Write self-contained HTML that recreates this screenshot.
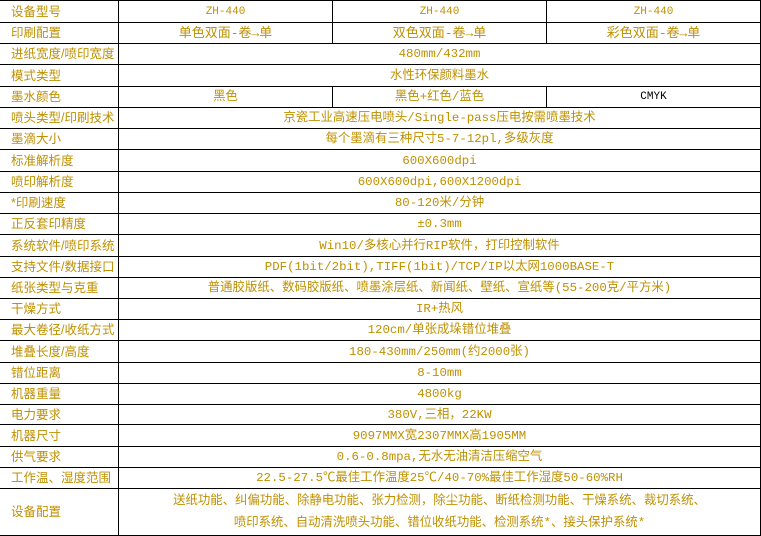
<!DOCTYPE html>
<html><head><meta charset="utf-8"><style>
body{margin:0;width:761px;height:536px;background:#fff;position:relative;overflow:hidden;color:#bf9000}
.h{position:absolute;left:0;width:761px;height:1px;background:#000}
.v{position:absolute;width:1px;background:#000}
.l{position:absolute;left:11px;font-size:12.5px;white-space:nowrap;font-family:"Liberation Sans","Noto Sans CJK SC",sans-serif;margin-top:1px}
.c{position:absolute;text-align:center;font-size:12.4px;white-space:nowrap;font-family:"Liberation Mono","Noto Sans CJK SC",monospace;margin-top:1px}
</style></head><body>
<div id="g"></div>
<script>
var ys=[0,22,43,64,86,107,128,149,171,192,213,234,256,277,298,319,340,362,383,404,424,446,467,488,535];
var L=["设备型号","印刷配置","进纸宽度/喷印宽度","模式类型","墨水颜色","喷头类型/印刷技术","墨滴大小","标准解析度","喷印解析度","*印刷速度","正反套印精度","系统软件/喷印系统","支持文件/数据接口","纸张类型与克重","干燥方式","最大卷径/收纸方式","堆叠长度/高度","错位距离","机器重量","电力要求","机器尺寸","供气要求","工作温、湿度范围","设备配置"];
var C=[["ZH-440","ZH-440","ZH-440"],["单色双面-卷→单","双色双面-卷→单","彩色双面-卷→单"],"480mm/432mm","水性环保颜料墨水",["黑色","黑色+红色/蓝色","CMYK"],"京瓷工业高速压电喷头/Single-pass压电按需喷墨技术","每个墨滴有三种尺寸5-7-12pl,多级灰度","600X600dpi","600X600dpi,600X1200dpi","80-120米/分钟","±0.3mm","Win10/多核心并行RIP软件，打印控制软件","PDF(1bit/2bit),TIFF(1bit)/TCP/IP以太网1000BASE-T","普通胶版纸、数码胶版纸、喷墨涂层纸、新闻纸、壁纸、宣纸等(55-200克/平方米)","IR+热风","120cm/单张成垛错位堆叠","180-430mm/250mm(约2000张)","8-10mm","4800kg","380V,三相，22KW","9097MMX宽2307MMX高1905MM","0.6-0.8mpa,无水无油清洁压缩空气","22.5-27.5℃最佳工作温度25℃/40-70%最佳工作湿度50-60%RH","送纸功能、纠偏功能、除静电功能、张力检测，除尘功能、断纸检测功能、干燥系统、裁切系统、<br>喷印系统、自动清洗喷头功能、错位收纸功能、检测系统*、接头保护系统*"];
var h="";
ys.forEach(function(y){h+='<div class="h" style="top:'+y+'px"></div>'});
h+='<div class="v" style="left:118px;top:0;height:536px"></div><div class="v" style="left:760px;top:0;height:536px"></div>';
[0,1,4].forEach(function(i){h+='<div class="v" style="left:332px;top:'+ys[i]+'px;height:'+(ys[i+1]-ys[i])+'px"></div><div class="v" style="left:546px;top:'+ys[i]+'px;height:'+(ys[i+1]-ys[i])+'px"></div>'});
for(var i=0;i<24;i++){var t=ys[i],b=ys[i+1],hh=b-t;
h+='<div class="l" style="top:'+t+'px;line-height:'+hh+'px">'+L[i]+'</div>';
var c=C[i];
if(Array.isArray(c)){var xs=[[119,332],[333,546],[547,760]];for(var k=0;k<3;k++){h+='<div class="c" style="left:'+xs[k][0]+'px;width:'+(xs[k][1]-xs[k][0])+'px;top:'+t+'px;line-height:'+hh+'px;'+(c[k]=="CMYK"?'color:#000;font-size:11px;':'')+(i==0?'font-size:11px;':'')+(i==1?'font-size:13px;':'')+'">'+c[k]+'</div>'}}
else{var lh=i==23?'line-height:22px;top:'+(t+1)+'px':'line-height:'+hh+'px;top:'+t+'px';h+='<div class="c" style="left:119px;width:641px;'+lh+'">'+c+'</div>'}}
document.getElementById("g").innerHTML=h;
</script>
</body></html>
